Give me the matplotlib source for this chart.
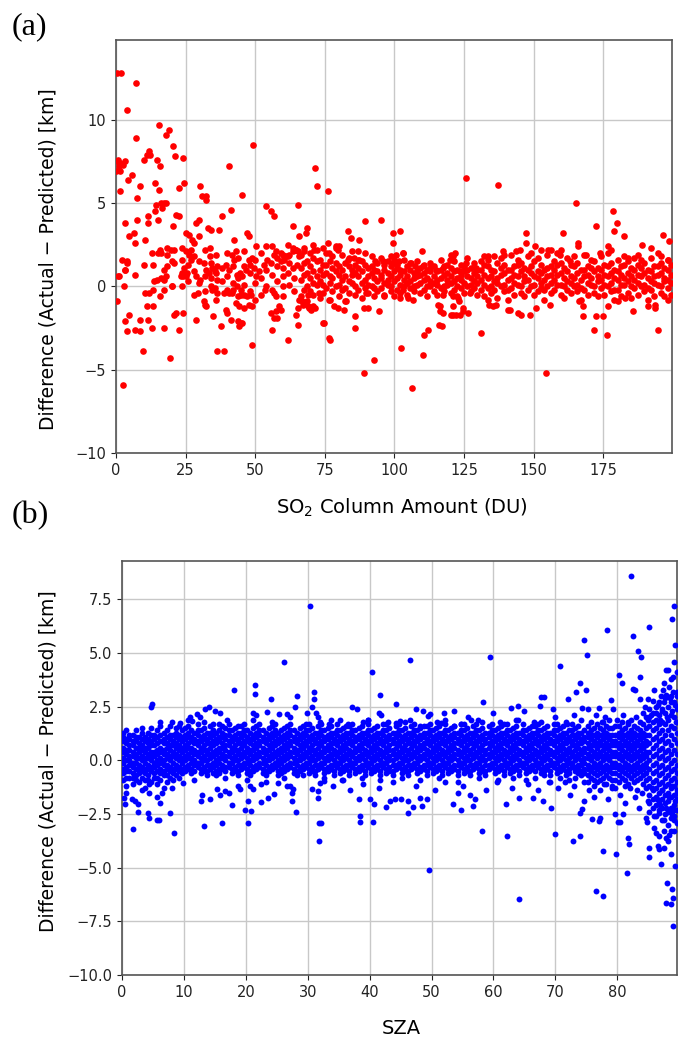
import matplotlib.pyplot as plt
import numpy as np

# ---------------- panel (a): SO2 column amount vs difference ----------------
# scattered points read one by one: (SO2 column [DU], difference [km])
so2_points = [
    (0.5, 12.8), (1.9, 12.8), (7.1, 12.2), (4.0, 10.6), (15.3, 9.7), (19.0, 9.4),
    (18.0, 9.1), (7.1, 8.9), (49.2, 8.5), (20.4, 8.4), (11.7, 8.1), (11.0, 7.9),
    (12.4, 7.9), (0.3, 7.5), (0.8, 7.6), (1.5, 7.4), (2.5, 7.3), (3.2, 7.5),
    (1.0, 7.2), (0.2, 6.9), (1.3, 6.9), (10.2, 7.6), (14.9, 7.6), (15.8, 7.2),
    (21.3, 7.8), (24.2, 7.7), (40.6, 7.2), (71.3, 7.1), (4.4, 6.4), (5.6, 6.7),
    (125.8, 6.5), (137.2, 6.1), (72.2, 6.0), (76.2, 5.7), (165.3, 5.0),
    (1.6, 5.7), (7.6, 5.3), (8.6, 6.0), (14.0, 6.2), (15.4, 5.8), (22.6, 5.9),
    (24.6, 6.2), (30.2, 6.0), (31.0, 5.4), (32.4, 5.4), (32.2, 5.2), (45.1, 5.5),
    (53.9, 4.8), (55.6, 4.5), (56.8, 4.2), (65.4, 4.9), (14.4, 4.9), (16.0, 5.0),
    (17.2, 5.0), (18.0, 5.0), (16.6, 4.7), (13.9, 4.5), (3.1, 3.8), (7.6, 4.0),
    (11.6, 4.2), (11.6, 3.8), (15.2, 4.0), (20.4, 3.6), (21.6, 4.3), (22.8, 4.2),
    (28.9, 3.8), (29.8, 4.0), (37.0, 3.4), (38.0, 4.2), (41.4, 4.6), (33.0, 3.5),
    (34.0, 3.4), (4.6, 3.0), (6.4, 3.2), (6.8, 2.6), (10.4, 2.8), (25.0, 3.2),
    (26.2, 3.1), (27.4, 2.8), (28.0, 2.6), (29.8, 3.0), (33.8, 2.3), (42.4, 2.8),
    (43.0, 2.1), (41.8, 1.9), (46.9, 3.2), (47.8, 3.0), (50.2, 2.4), (54.0, 2.4),
    (63.4, 3.6), (65.6, 3.0), (61.6, 2.5), (63.7, 2.3), (65.2, 2.1), (57.6, 2.1),
    (59.2, 2.0), (61.0, 1.8), (62.2, 1.9), (13.0, 2.0), (15.2, 2.0), (16.0, 2.0),
    (18.4, 2.3), (19.6, 2.2), (20.8, 2.2), (23.8, 2.3), (25.0, 2.1), (26.2, 1.9),
    (26.8, 2.2), (27.0, 1.6), (20.2, 1.5), (20.8, 1.4), (23.8, 1.6), (24.6, 1.1),
    (23.8, 0.8), (25.6, 0.8), (25.0, 0.6), (28.6, 0.6), (31.6, 1.4), (32.4, 1.0),
    (33.4, 0.8), (34.6, 1.1), (35.4, 0.9), (36.4, 1.2), (34.0, 0.5), (36.2, 0.4),
    (33.6, 1.8), (39.4, 1.3), (40.6, 1.0), (42.4, 1.6), (43.6, 0.7), (44.6, 0.8),
    (46.0, 1.2), (45.4, 0.6), (46.6, 1.0), (47.8, 1.6), (49.0, 1.7), (49.6, 1.1),
    (50.2, 0.6), (51.4, 0.9), (53.2, 1.3), (54.4, 1.6), (55.6, 1.4), (56.8, 1.9),
    (58.0, 1.7), (59.2, 1.5), (60.4, 1.6), (61.6, 1.8), (63.4, 2.1), (64.6, 2.2),
    (65.8, 1.8), (59.8, 1.1), (61.6, 0.8), (63.4, 1.1), (64.9, 1.3), (1.0, 0.6),
    (2.2, 1.6), (3.8, 1.5), (3.4, 1.0), (6.7, 0.7), (10.0, 1.3), (13.4, 1.3),
    (15.8, 2.2), (18.4, 1.9), (17.2, 1.0), (0.4, -0.9), (2.8, 0.0), (13.6, 0.3),
    (14.8, 0.4), (16.0, 0.5), (17.2, 0.4), (17.8, 0.6), (10.6, -0.4), (11.8, -0.4),
    (13.4, -0.2), (15.8, -0.6), (17.2, -0.2), (20.2, 0.0), (23.8, 0.0), (24.2, 0.6),
    (11.0, -1.2), (13.2, -1.2), (4.6, -1.7), (8.5, -2.0), (11.4, -2.0), (13.0, -2.5),
    (3.1, -2.1), (3.8, -2.7), (6.8, -2.6), (8.8, -2.7), (9.8, -3.9), (17.2, -2.5),
    (19.4, -4.3), (21.4, -1.6), (20.8, -1.7), (22.6, -2.6), (24.2, -1.6), (28.6, -2.0),
    (29.4, -0.4), (31.6, -0.9), (32.2, -1.2), (34.9, -1.8), (34.6, -0.2), (35.4, -0.1),
    (36.2, -3.9), (38.8, -3.9), (37.6, -2.4), (39.4, -1.4), (40.0, -1.6), (41.2, -2.0),
    (38.8, -0.4), (40.6, -0.4), (41.8, -0.4), (43.9, -2.1), (44.8, -2.2), (44.2, -2.4),
    (45.4, -2.2), (43.0, -1.0), (44.2, -1.2), (46.0, -1.3), (43.3, 0.0), (44.8, -0.2),
    (46.0, -0.5), (47.2, -0.6), (48.4, -0.5), (49.0, -1.2), (49.8, -0.8), (48.7, -3.5),
    (56.2, -2.6), (56.8, -0.4), (57.6, -0.6), (58.6, -1.2), (57.4, -1.5), (59.8, 0.0),
    (59.2, -1.4), (61.6, -3.2), (64.6, -1.7), (65.4, -1.3), (65.2, -2.3), (65.8, -0.8),
    (2.5, -5.9), (18.4, 1.2), (20.0, 0.0), (23.2, 0.6), (30.2, 0.4), (31.8, -1.1),
    (36.4, -0.4), (42.0, -0.2), (45.0, -0.5), (47.9, -1.1), (53.6, -0.2), (55.6, -1.6),
    (56.8, -1.9), (57.7, -1.9), (66.7, -0.9), (67.3, -1.1), (68.9, -1.2), (70.1, -1.4),
    (71.3, -1.3), (74.5, -2.2), (76.6, -3.1), (0.8, 0.6), (4.0, 1.4), (3.2, 1.0),
    (89.5, 3.9), (95.2, 4.0), (99.4, 3.2), (102.0, 3.3), (99.4, 2.6), (83.4, 3.3),
    (84.4, 2.9), (87.1, 2.8), (68.5, 3.5), (68.2, 3.2), (109.8, 2.1), (120.4, 1.9),
    (121.9, 2.0), (102.9, 2.0), (64.8, 2.2), (67.6, 2.1), (70.6, 2.5), (71.2, 2.2),
    (74.2, 2.3), (76.0, 2.6), (76.6, 2.0), (79.0, 2.3), (80.2, 2.4), (79.6, 2.2),
    (83.2, 1.6), (85.6, 1.7), (86.8, 2.1), (87.4, 1.6), (92.9, 1.5), (95.8, 1.5),
    (98.8, 1.8), (100.6, 1.9), (103.0, 2.0), (99.4, 1.4), (101.8, 1.5), (106.0, 1.4),
    (107.2, 1.2), (110.2, 1.2), (112.6, 1.1), (115.0, 1.0), (117.4, 1.1), (119.8, 1.6),
    (121.0, 1.8), (123.4, 0.9), (125.8, 1.4), (129.3, 1.1), (132.3, 1.8),
    (68.8, -0.5), (69.4, -1.3), (70.6, -1.2), (73.0, -0.4), (74.8, -2.2), (76.6, -0.8),
    (77.0, -3.2), (78.4, -1.2), (79.6, -1.3), (82.6, -0.9), (82.0, -1.4), (85.9, -1.8),
    (85.9, -2.5), (89.2, -1.3), (90.4, -1.3), (94.3, -1.5), (96.4, -0.6), (89.8, -0.4),
    (89.2, -5.2), (92.8, -4.4), (102.5, -3.7), (106.4, -6.1), (110.2, -4.1), (110.5, -2.9),
    (112.2, -2.6), (115.9, -2.3), (117.0, -2.4), (102.0, -0.7), (104.8, -0.7), (106.6, -0.8),
    (103.0, -0.2), (116.2, -1.2), (116.4, -1.5), (117.4, -1.6), (120.4, -1.7), (121.0, -1.2),
    (123.0, -0.9), (123.4, -1.7), (124.6, -1.5), (126.4, -1.6), (121.0, -0.6), (122.8, -0.7),
    (131.1, -2.8), (117.4, -0.5), (127.0, -0.4),
    (178.5, 4.5), (179.9, 3.8), (178.8, 3.3), (172.2, 3.6), (182.3, 3.0), (196.5, 3.1),
    (198.6, 2.7), (147.3, 3.2), (147.3, 2.6), (150.3, 2.4), (160.5, 3.2), (165.9, 2.6),
    (165.9, 2.4), (176.7, 2.4), (177.9, 2.2), (188.7, 2.5), (192.0, 2.3), (168.6, 1.9),
    (173.7, 2.0), (183.9, 1.7), (187.5, 1.9), (195.8, 1.8), (198.3, 1.6), (133.5, 1.8),
    (138.9, 2.1), (139.5, 1.9), (143.7, 2.1), (144.9, 2.2), (152.7, 2.2), (155.1, 2.2),
    (156.3, 2.2), (159.9, 2.2), (159.4, 1.9), (162.9, 1.5), (135.3, -1.2), (136.5, -1.1),
    (141.3, -1.4), (144.3, -1.6), (145.5, -1.7), (148.5, -1.7), (150.9, -1.3), (155.7, -1.1),
    (154.5, -5.2), (166.1, -0.9), (167.7, -1.2), (167.7, -1.8), (172.2, -1.8), (174.9, -1.8),
    (171.5, -2.6), (176.4, -2.9), (176.7, -1.2), (180.3, -0.9), (182.7, -0.7), (185.7, -1.5),
    (191.1, -1.2), (193.7, -1.3), (193.7, -1.1), (194.7, -2.6), (133.5, -0.8), (134.1, -1.1),
    (198.2, -0.8), (115.5, -1.1), (120.9, -1.7), (122.1, -1.7), (124.5, -1.3), (140.7, -1.4),
]

# denser part of the cloud, read as narrow columns: (SO2 column, [differences])
so2_band = [
    (26.0, [0.3, 1.3]), (28.0, [-0.5, 0.9, 1.8]), (30.0, [0.2, 1.5]),
    (32.0, [-0.3, 0.6, 2.2]), (34.0, [0.0, 1.4]), (36.0, [-0.8, 0.8, 1.9]),
    (38.0, [0.3, 1.1]), (40.0, [-0.2, 0.6, 2.0]), (42.0, [0.2, 1.2]),
    (44.0, [-0.6, 0.5, 1.7]), (46.0, [0.1, 2.1]), (48.0, [-0.3, 0.8, 1.3]),
    (50.0, [0.2, 1.6]), (52.0, [-0.5, 0.5, 2.0]), (54.0, [0.0, 1.0]),
    (56.0, [-0.2, 0.7, 2.4]), (58.0, [0.3, 1.2]), (60.0, [-0.6, 0.6, 1.9]),
    (62.0, [0.1, 1.4]), (64.0, [-0.3, 0.5, 2.2]),
    (66.3, [-0.6, 0.4, 1.1, 1.9]), (67.4, [-0.2, 0.7, 1.4, 2.3]), (68.7, [-0.9, 0.0, 0.8, 1.5]),
    (69.8, [-0.3, 0.5, 1.2, 2.0]), (70.9, [-0.5, 0.2, 0.9, 1.7]), (72.1, [0.1, 0.6, 1.5, 2.2]),
    (73.3, [-0.7, 0.3, 1.0, 1.6]), (74.2, [-0.4, 0.1, 0.7, 1.3]), (75.5, [-0.1, 0.8, 1.3, 2.0]),
    (76.7, [-0.8, 0.2, 0.6, 1.5]), (77.6, [-0.3, 0.5, 1.1, 1.8]), (78.9, [0.0, 0.9, 1.4, 2.4]),
    (80.1, [-0.6, 0.1, 0.7, 1.2]), (81.2, [-0.2, 0.4, 1.0, 1.9]), (82.4, [-0.9, -0.1, 0.6, 1.4]),
    (83.7, [-0.4, 0.3, 1.2, 1.7]), (84.8, [0.2, 0.7, 1.0, 2.1]), (85.9, [-0.5, 0.0, 0.8, 1.3]),
    (87.0, [-0.2, 0.6, 1.1, 1.6]), (88.3, [-0.7, 0.2, 0.9, 1.5]), (89.4, [-0.1, 0.4, 1.3, 2.0]),
    (90.6, [-0.4, 0.1, 0.6, 1.1]), (91.8, [0.0, 0.8, 1.2, 1.8]), (92.7, [-0.6, -0.1, 0.5, 1.0]),
    (93.9, [-0.3, 0.3, 0.9, 1.4]), (95.1, [-0.1, 0.5, 0.7, 1.7]), (96.2, [-0.5, 0.2, 1.0, 1.3]),
    (97.5, [0.1, 0.4, 0.8, 1.5]), (98.6, [-0.3, 0.0, 0.6, 1.2]), (99.8, [-0.6, 0.3, 0.9, 1.6]),
    (101.0, [-0.2, 0.5, 1.1, 1.3]), (102.1, [-0.4, 0.1, 0.7, 1.0]), (103.4, [0.0, 0.4, 0.9, 1.6]),
    (104.6, [-0.5, 0.2, 0.6, 1.2]), (105.7, [-0.1, 0.3, 1.0, 1.4]), (106.9, [-0.3, 0.0, 0.5, 0.8]),
    (108.2, [0.1, 0.6, 0.9, 1.5]), (109.3, [-0.4, 0.2, 0.7, 1.1]), (110.5, [-0.2, 0.4, 0.8, 1.3]),
    (111.8, [-0.6, 0.0, 0.5, 1.0]), (112.9, [0.0, 0.3, 0.9, 1.4]), (114.1, [-0.3, 0.2, 0.6, 1.2]),
    (115.4, [-0.5, 0.1, 0.4, 0.9]), (116.6, [-0.1, 0.5, 1.0, 1.6]), (117.7, [-0.3, 0.0, 0.7, 1.2]),
    (118.9, [0.1, 0.4, 0.8, 1.3]), (120.2, [-0.4, 0.2, 0.6, 1.1]), (121.4, [-0.2, 0.3, 0.9, 1.5]),
    (122.5, [-0.6, 0.0, 0.5, 1.0]), (123.8, [-0.1, 0.4, 0.7, 1.3]), (124.9, [-0.4, 0.2, 0.9, 1.2]),
    (126.1, [0.0, 0.6, 1.0, 1.7]), (127.4, [-0.3, 0.1, 0.5, 1.1]), (128.6, [-0.1, 0.3, 0.8, 1.4]),
    (129.7, [-0.5, 0.2, 0.6, 1.0]), (130.9, [-0.2, 0.4, 1.0, 1.5]), (132.2, [-0.6, 0.1, 0.7, 1.3]),
    (133.4, [-0.1, 0.5, 1.2, 1.6]), (134.5, [-0.4, 0.0, 0.6, 1.0]), (135.8, [-0.2, 0.3, 0.9, 1.8]),
    (136.9, [-0.7, 0.2, 0.5, 1.4]), (138.1, [0.0, 0.7, 1.1, 1.7]), (139.4, [-0.3, 0.1, 0.8, 1.3]),
    (140.6, [-0.8, -0.2, 0.4, 1.0]), (141.7, [-0.1, 0.5, 1.0, 1.9]), (142.9, [-0.5, 0.2, 0.7, 1.2]),
    (144.2, [0.1, 0.6, 1.3, 1.6]), (145.3, [-0.4, 0.0, 0.9, 1.4]), (146.5, [-0.6, 0.3, 0.6, 1.1]),
    (147.8, [-0.2, 0.4, 1.0, 1.8]), (148.9, [0.0, 0.8, 1.2, 2.0]), (150.1, [-0.5, 0.1, 0.6, 1.5]),
    (151.4, [-0.3, 0.5, 0.9, 1.7]), (152.5, [-0.1, 0.2, 0.8, 1.3]), (153.7, [-0.8, -0.2, 0.4, 1.0]),
    (154.9, [0.0, 0.6, 1.1, 1.9]), (156.2, [-0.4, 0.2, 0.7, 1.2]), (157.3, [-0.2, 0.4, 1.0, 1.5]),
    (158.5, [0.1, 0.7, 1.3, 2.0]), (159.8, [-0.5, 0.1, 0.8, 1.4]), (160.9, [-0.7, 0.0, 0.5, 1.1]),
    (162.1, [-0.2, 0.3, 0.9, 1.7]), (163.4, [-0.4, 0.2, 0.6, 1.3]), (164.6, [0.0, 0.5, 1.2, 1.8]),
    (165.7, [-0.3, 0.1, 0.8, 1.4]), (166.9, [-0.8, -0.1, 0.4, 1.0]), (168.2, [-0.2, 0.6, 1.0, 1.9]),
    (169.3, [-0.5, 0.2, 0.7, 1.2]), (170.5, [0.1, 0.5, 1.1, 1.6]), (171.8, [-0.4, 0.0, 0.9, 1.5]),
    (172.9, [-0.6, 0.3, 0.6, 1.1]), (174.1, [-0.1, 0.4, 1.0, 1.8]), (175.4, [-0.5, 0.1, 0.7, 1.3]),
    (176.5, [0.0, 0.6, 1.2, 2.0]), (177.7, [-0.3, 0.2, 0.8, 1.4]), (178.9, [-0.8, -0.2, 0.5, 1.0]),
    (180.2, [-0.2, 0.4, 0.9, 1.6]), (181.3, [-0.6, 0.1, 0.7, 1.2]), (182.5, [0.1, 0.5, 1.3, 1.8]),
    (183.8, [-0.4, 0.3, 0.8, 1.5]), (184.9, [-0.7, 0.0, 0.6, 1.1]), (186.1, [-0.1, 0.4, 1.0, 1.7]),
    (187.4, [-0.5, 0.2, 0.7, 1.3]), (188.5, [0.0, 0.6, 1.1, 1.6]), (189.7, [-0.3, 0.1, 0.8, 1.4]),
    (190.9, [-0.8, -0.1, 0.5, 1.0]), (192.2, [-0.2, 0.3, 0.9, 1.7]), (193.3, [-0.6, 0.2, 0.6, 1.2]),
    (194.5, [0.1, 0.7, 1.2, 2.0]), (195.8, [-0.4, 0.0, 0.8, 1.4]), (196.9, [-0.6, 0.3, 0.5, 1.1]),
    (198.1, [-0.1, 0.4, 1.0, 1.6]), (199.3, [-0.5, 0.2, 0.7, 1.3]),
]

# ---------------- panel (b): SZA vs difference ----------------
# scattered points read one by one: (SZA [deg], difference [km])
sza_points = [
    (30.4, 7.2), (26.1, 4.6), (18.1, 3.3), (21.5, 3.5), (21.5, 3.1), (24.1, 2.85),
    (28.3, 3.0), (31.0, 3.2), (31.0, 2.85), (30.7, 2.5), (4.8, 2.65), (4.7, 2.5),
    (27.9, 2.5), (29.8, 2.2), (31.4, 2.2), (31.7, 2.0), (25.4, 2.15), (26.6, 2.15),
    (23.4, 2.25), (21.2, 2.2), (21.7, 2.1), (14.0, 2.5), (15.0, 2.3), (15.8, 2.2),
    (12.1, 2.15), (11.3, 1.85), (8.1, 1.8), (9.4, 1.75), (6.1, 1.8), (31.9, 1.8),
    (13.4, 2.4), (16.9, 1.9), (12.6, 2.0), (11.0, 2.0),
    (82.2, 8.6), (89.2, 7.2), (88.8, 6.6), (85.1, 6.2), (78.4, 6.1), (82.6, 5.8),
    (74.6, 5.6), (89.3, 5.4), (83.4, 5.1), (75.1, 4.9), (83.9, 4.8), (59.4, 4.8),
    (46.5, 4.7), (40.4, 4.1), (70.8, 4.4), (89.1, 4.6), (88.2, 4.2), (89.0, 3.9),
    (80.3, 4.0), (80.8, 3.6), (83.7, 3.9), (73.9, 3.6), (75.0, 3.3), (73.4, 3.2),
    (82.5, 3.35), (82.9, 3.3), (87.6, 3.6), (88.4, 3.4), (87.4, 3.3), (87.9, 3.05),
    (89.0, 3.2), (72.0, 2.85), (41.7, 3.05), (44.2, 2.65), (58.3, 2.7), (67.6, 2.95),
    (68.1, 2.95), (83.7, 2.85), (84.9, 2.85), (85.8, 2.75), (87.6, 2.7), (88.7, 2.7),
    (37.1, 2.5), (38.0, 2.4), (47.5, 2.4), (48.6, 2.3), (49.7, 2.15), (52.0, 2.2),
    (53.7, 2.3), (55.9, 2.0), (56.4, 1.9), (59.9, 2.2), (62.9, 2.45), (63.9, 2.55),
    (64.9, 2.3), (67.5, 2.55), (69.6, 2.4), (74.3, 2.45), (75.3, 2.4), (77.1, 2.45),
    (79.3, 2.4), (38.9, 1.8), (41.5, 2.2), (41.8, 2.1), (44.2, 1.75), (44.9, 1.85),
    (48.1, 1.6), (49.4, 2.05), (51.6, 1.75), (53.7, 1.6),
    (86.2, 2.2), (86.9, 1.9), (87.3, 2.4), (88.1, 2.0), (88.9, 2.3), (89.5, 1.8),
    (85.5, 2.1), (86.5, 2.6), (87.0, 3.0), (88.5, 2.9), (89.4, 2.6), (85.0, 1.9),
    (84.2, 2.2), (83.0, 2.0), (81.0, 2.1), (80.0, 1.9), (78.0, 2.0), (76.5, 2.1),
    (77.5, 1.8), (81.8, 1.8), (79.0, 2.8), (84.5, 2.5), (86.0, 3.3), (89.6, 3.0),
    (89.7, 4.1), (88.6, 3.8), (87.8, 4.2),
    (33.5, 1.7), (35.2, 1.9), (36.5, 1.7), (39.8, 1.9), (43.0, 1.8), (46.5, 1.9),
    (50.8, 1.8), (54.8, 1.7), (57.5, 1.9), (61.0, 1.8), (64.0, 1.9), (66.5, 1.8),
    (70.0, 2.0), (71.8, 1.7), (73.0, 2.1),
    (1.8, -3.2), (8.4, -3.4), (13.3, -3.04), (31.8, -3.77), (31.8, -2.9), (32.2, -2.9),
    (16.1, -2.9), (20.4, -2.9), (5.7, -2.76), (6.0, -2.76), (4.2, -2.45), (4.4, -2.68),
    (7.7, -2.45), (2.5, -2.4), (2.1, -1.9), (2.6, -2.05), (1.6, -1.8), (0.3, -1.75),
    (0.5, -2.05), (0.7, -1.5), (6.1, -2.0), (5.6, -1.7), (6.4, -1.5), (6.7, -1.28),
    (3.2, -1.4), (4.4, -1.5), (4.3, -1.12), (8.0, -1.28), (9.8, -1.07), (12.9, -1.6),
    (12.7, -1.9), (14.2, -1.82), (15.3, -1.35), (15.8, -1.6), (16.6, -1.43), (17.2, -1.5),
    (17.8, -2.06), (18.7, -1.2), (19.0, -1.35), (19.9, -2.3), (20.4, -1.9), (20.9, -2.37),
    (20.7, -1.2), (21.2, -1.33), (22.5, -1.12), (22.4, -1.95), (23.5, -1.74), (24.6, -1.56),
    (25.2, -1.04), (26.6, -1.2), (27.1, -1.2), (27.4, -1.5), (27.5, -1.9), (28.1, -2.4),
    (27.6, -1.35), (30.7, -1.35), (31.7, -1.43), (32.0, -1.04), (32.7, -0.97), (31.7, -1.74),
    (89.0, -7.7), (87.9, -6.65), (88.7, -6.7), (88.0, -5.7), (88.8, -6.0), (89.0, -6.4),
    (76.6, -6.1), (77.7, -6.3), (64.1, -6.45), (49.6, -5.1), (81.5, -5.25), (87.1, -4.83),
    (89.4, -4.9), (77.7, -4.24), (79.8, -4.35), (85.2, -4.5), (85.2, -4.08), (86.5, -4.0),
    (86.8, -4.13), (87.6, -4.08), (88.6, -4.35), (81.7, -3.6), (81.9, -3.9), (70.0, -3.41),
    (73.9, -3.5), (72.8, -3.77), (62.2, -3.5), (58.2, -3.3), (86.0, -3.15), (86.3, -3.38),
    (86.8, -3.54), (87.9, -3.61), (88.4, -3.46), (88.7, -3.3), (87.6, -3.3), (88.2, -3.77),
    (89.2, -2.76), (75.9, -2.73), (77.0, -2.83), (77.2, -2.68), (79.6, -2.52), (80.1, -2.88),
    (80.5, -2.88), (80.9, -2.52), (84.7, -2.68), (84.8, -2.87), (86.0, -2.57), (86.8, -2.45),
    (87.6, -2.76), (88.4, -2.37), (88.9, -2.52), (89.2, -2.29), (38.5, -2.6), (38.5, -2.87),
    (40.6, -2.87), (46.2, -2.45), (54.8, -2.29), (56.7, -2.13), (69.3, -2.2), (73.9, -2.45),
    (74.3, -2.26), (38.3, -1.82), (40.0, -1.82), (40.7, -2.05), (42.7, -2.18), (43.3, -1.9),
    (44.1, -1.82), (45.1, -1.82), (46.2, -1.9), (47.0, -2.16), (48.1, -1.74), (48.5, -2.13),
    (49.3, -1.79), (53.4, -2.05), (54.3, -1.51), (56.2, -1.59), (57.0, -1.82), (62.0, -2.05),
    (64.2, -1.74), (66.4, -1.74), (68.0, -1.9),
    (70.5, -1.3), (71.5, -1.0), (72.3, -1.6), (73.0, -1.2), (74.6, -1.9), (75.4, -1.4),
    (76.2, -1.7), (77.8, -1.1), (78.5, -1.8), (79.2, -1.3), (80.4, -1.6), (81.3, -2.0),
    (82.0, -1.3), (82.8, -1.7), (83.5, -2.2), (84.0, -1.5), (85.0, -1.9), (85.6, -1.3),
    (86.4, -1.8), (86.9, -2.1), (87.3, -1.4), (87.8, -2.2), (88.3, -1.7), (88.8, -1.2),
    (89.3, -1.9), (89.6, -1.5), (34.0, -1.2), (35.5, -0.9), (36.8, -1.4), (39.0, -1.1),
    (41.5, -1.3), (43.8, -1.0), (47.5, -1.2), (50.5, -1.4), (52.2, -1.0), (55.0, -1.2),
    (58.8, -1.4), (60.5, -1.0), (63.0, -1.3), (65.5, -1.1), (67.2, -1.4), (69.0, -1.0),
]

# dense core of the cloud, read as narrow columns: (SZA, [differences])
sza_band = [
    (0.2, [-0.9, -0.6, -0.4, -0.1, 0.1, 0.4, 0.6, 0.9, 1.1, 1.3]),
    (0.7, [-1.2, -0.8, -0.5, -0.3, 0.0, 0.3, 0.5, 0.8, 1.0, 1.4]),
    (1.2, [-0.8, -0.5, -0.2, 0.0, 0.2, 0.5, 0.7, 1.0, 1.2]),
    (1.7, [-1.1, -0.8, -0.6, -0.3, -0.1, 0.2, 0.4, 0.7, 0.9, 1.2]),
    (2.2, [-0.9, -0.7, -0.4, -0.1, 0.1, 0.3, 0.6, 0.9, 1.1, 1.4]),
    (2.7, [-1.0, -0.6, -0.4, -0.2, 0.1, 0.4, 0.6, 0.8, 1.1]),
    (3.2, [-0.8, -0.5, -0.3, 0.0, 0.2, 0.5, 0.7, 1.0, 1.3, 1.5]),
    (3.7, [-1.3, -0.9, -0.6, -0.4, -0.1, 0.1, 0.4, 0.6, 0.9, 1.1]),
    (4.2, [-0.9, -0.7, -0.4, -0.2, 0.1, 0.3, 0.6, 0.8, 1.0, 1.3]),
    (4.7, [-1.0, -0.5, -0.3, 0.0, 0.2, 0.4, 0.7, 0.9, 1.2, 1.5]),
    (5.2, [-0.8, -0.6, -0.3, -0.1, 0.2, 0.4, 0.7, 1.0, 1.2]),
    (5.7, [-1.1, -0.8, -0.5, -0.2, 0.0, 0.3, 0.5, 0.8, 1.1, 1.4]),
    (6.2, [-0.9, -0.6, -0.4, -0.1, 0.1, 0.4, 0.6, 0.9, 1.2, 1.6]),
    (6.7, [-0.7, -0.5, -0.2, 0.0, 0.3, 0.5, 0.8, 1.0, 1.3]),
    (7.2, [-1.0, -0.7, -0.4, -0.2, 0.1, 0.3, 0.6, 0.8, 1.1, 1.4]),
    (7.7, [-0.8, -0.5, -0.3, 0.0, 0.2, 0.5, 0.7, 1.0, 1.2, 1.6]),
    (8.2, [-0.9, -0.6, -0.4, -0.1, 0.2, 0.4, 0.7, 0.9, 1.2]),
    (8.7, [-0.7, -0.4, -0.2, 0.1, 0.3, 0.6, 0.8, 1.1, 1.3, 1.5]),
    (9.2, [-0.8, -0.5, -0.3, 0.0, 0.2, 0.5, 0.7, 1.0, 1.2, 1.6]),
    (9.7, [-0.6, -0.4, -0.1, 0.1, 0.4, 0.6, 0.9, 1.1, 1.4]),
    (10.2, [-0.5, -0.3, 0.0, 0.2, 0.5, 0.7, 1.0, 1.2, 1.5]),
    (10.7, [-0.4, -0.2, 0.1, 0.3, 0.6, 0.8, 1.1, 1.3, 1.6, 1.9]),
    (11.2, [-0.6, -0.4, -0.1, 0.1, 0.4, 0.6, 0.9, 1.1, 1.4]),
    (11.7, [-0.9, -0.5, -0.2, 0.0, 0.3, 0.5, 0.8, 1.0, 1.3]),
    (12.2, [-0.3, -0.1, 0.2, 0.4, 0.7, 0.9, 1.2, 1.4, 1.7]),
    (12.7, [-0.6, -0.4, -0.1, 0.1, 0.4, 0.6, 0.9, 1.1, 1.4]),
    (13.2, [-0.5, -0.3, 0.0, 0.2, 0.5, 0.7, 1.0, 1.2, 1.5, 1.8]),
    (13.7, [-0.7, -0.5, -0.2, 0.0, 0.3, 0.5, 0.8, 1.0, 1.3]),
    (14.2, [-0.4, -0.2, 0.1, 0.3, 0.6, 0.8, 1.1, 1.3, 1.6]),
    (14.7, [-0.6, -0.3, -0.1, 0.2, 0.4, 0.7, 0.9, 1.2, 1.4, 1.7]),
    (15.2, [-0.7, -0.5, -0.2, 0.0, 0.3, 0.5, 0.8, 1.0, 1.3]),
    (15.7, [-0.6, -0.4, -0.1, 0.1, 0.4, 0.6, 0.9, 1.1, 1.4, 1.7]),
    (16.2, [-0.4, -0.2, 0.1, 0.3, 0.6, 0.8, 1.1, 1.3, 1.6]),
    (16.7, [-0.8, -0.5, -0.3, 0.0, 0.2, 0.5, 0.7, 1.0, 1.2, 1.5]),
    (17.2, [-0.3, -0.1, 0.2, 0.4, 0.7, 0.9, 1.2, 1.4, 1.7]),
    (17.7, [-0.6, -0.4, -0.1, 0.1, 0.4, 0.6, 0.9, 1.1, 1.4]),
    (18.2, [-0.5, -0.3, 0.0, 0.2, 0.5, 0.7, 1.0, 1.2, 1.5]),
    (18.7, [-0.7, -0.5, -0.2, 0.0, 0.3, 0.5, 0.8, 1.0, 1.3, 1.6]),
    (19.2, [-0.4, -0.2, 0.1, 0.3, 0.6, 0.8, 1.1, 1.3, 1.6]),
    (19.7, [-0.3, -0.1, 0.2, 0.4, 0.7, 0.9, 1.2, 1.4, 1.7]),
    (20.2, [-0.9, -0.6, -0.4, -0.1, 0.1, 0.4, 0.6, 0.9, 1.1, 1.4]),
    (20.7, [-0.7, -0.5, -0.2, 0.0, 0.3, 0.5, 0.8, 1.0, 1.3]),
    (21.2, [-0.5, -0.3, 0.0, 0.2, 0.5, 0.7, 1.0, 1.2, 1.5, 1.9]),
    (21.7, [-0.4, -0.2, 0.1, 0.3, 0.6, 0.8, 1.1, 1.3, 1.6]),
    (22.2, [-0.3, -0.1, 0.2, 0.4, 0.7, 0.9, 1.2, 1.4, 1.7]),
    (22.7, [-0.6, -0.4, -0.1, 0.1, 0.4, 0.6, 0.9, 1.1, 1.4]),
    (23.2, [-1.0, -0.7, -0.5, -0.2, 0.0, 0.3, 0.5, 0.8, 1.0, 1.3]),
    (23.7, [-0.5, -0.3, 0.0, 0.2, 0.5, 0.7, 1.0, 1.2, 1.5]),
    (24.2, [-0.4, -0.2, 0.1, 0.3, 0.6, 0.8, 1.1, 1.3, 1.6, 1.8]),
    (24.7, [-0.3, -0.1, 0.2, 0.4, 0.7, 0.9, 1.2, 1.4, 1.7]),
    (25.2, [-0.7, -0.5, -0.2, 0.0, 0.3, 0.5, 0.8, 1.0, 1.3]),
    (25.7, [-0.6, -0.4, -0.1, 0.1, 0.4, 0.6, 0.9, 1.1, 1.4]),
    (26.2, [-0.8, -0.5, -0.3, 0.0, 0.2, 0.5, 0.7, 1.0, 1.2, 1.5]),
    (26.7, [-0.4, -0.2, 0.1, 0.3, 0.6, 0.8, 1.1, 1.3, 1.6]),
    (27.2, [-0.3, -0.1, 0.2, 0.4, 0.7, 0.9, 1.2, 1.4, 1.7, 2.0]),
    (27.7, [-0.6, -0.4, -0.1, 0.1, 0.4, 0.6, 0.9, 1.1, 1.4]),
    (28.2, [-0.7, -0.5, -0.2, 0.0, 0.3, 0.5, 0.8, 1.0, 1.3]),
    (28.7, [-0.5, -0.3, 0.0, 0.2, 0.5, 0.7, 1.0, 1.2, 1.5]),
    (29.2, [-0.7, -0.4, -0.2, 0.1, 0.3, 0.6, 0.8, 1.1, 1.3, 1.6]),
    (29.7, [-0.3, -0.1, 0.2, 0.4, 0.7, 0.9, 1.2, 1.4, 1.7]),
    (30.2, [-0.6, -0.4, -0.1, 0.1, 0.4, 0.6, 0.9, 1.1, 1.4, 1.7]),
    (30.7, [-0.5, -0.3, 0.0, 0.2, 0.5, 0.7, 1.0, 1.2, 1.5]),
    (31.2, [-0.7, -0.5, -0.2, 0.0, 0.3, 0.5, 0.8, 1.0, 1.3]),
    (31.7, [-0.4, -0.2, 0.1, 0.3, 0.6, 0.8, 1.1, 1.3, 1.6]),
    (32.2, [-0.3, -0.1, 0.2, 0.4, 0.7, 0.9, 1.2, 1.4, 1.7]),
    (32.7, [-0.8, -0.6, -0.4, -0.1, 0.1, 0.4, 0.6, 0.9, 1.1, 1.4]),
    (33.2, [-0.5, -0.3, 0.0, 0.2, 0.5, 0.7, 1.0, 1.2, 1.5]),
    (33.7, [-0.4, -0.2, 0.1, 0.3, 0.6, 0.8, 1.1, 1.3, 1.6, 1.9]),
    (34.2, [-0.7, -0.5, -0.2, 0.0, 0.3, 0.5, 0.8, 1.0, 1.3]),
    (34.7, [-0.3, -0.1, 0.2, 0.4, 0.7, 0.9, 1.2, 1.4, 1.7]),
    (35.2, [-0.6, -0.4, -0.1, 0.1, 0.4, 0.6, 0.9, 1.1, 1.4]),
    (35.7, [-0.9, -0.5, -0.3, 0.0, 0.2, 0.5, 0.7, 1.0, 1.2, 1.5]),
    (36.2, [-0.4, -0.2, 0.1, 0.3, 0.6, 0.8, 1.1, 1.3, 1.6]),
    (36.7, [-0.7, -0.5, -0.2, 0.0, 0.3, 0.5, 0.8, 1.0, 1.3, 1.6]),
    (37.2, [-0.3, -0.1, 0.2, 0.4, 0.7, 0.9, 1.2, 1.4, 1.7]),
    (37.7, [-0.6, -0.4, -0.1, 0.1, 0.4, 0.6, 0.9, 1.1, 1.4]),
    (38.2, [-0.5, -0.3, 0.0, 0.2, 0.5, 0.7, 1.0, 1.2, 1.5]),
    (38.7, [-0.8, -0.4, -0.2, 0.1, 0.3, 0.6, 0.8, 1.1, 1.3, 1.6]),
    (39.2, [-0.7, -0.5, -0.2, 0.0, 0.3, 0.5, 0.8, 1.0, 1.3]),
    (39.7, [-0.3, -0.1, 0.2, 0.4, 0.7, 0.9, 1.2, 1.4, 1.7, 1.9]),
    (40.2, [-0.6, -0.4, -0.1, 0.1, 0.4, 0.6, 0.9, 1.1, 1.4]),
    (40.7, [-0.5, -0.3, 0.0, 0.2, 0.5, 0.7, 1.0, 1.2, 1.5]),
    (41.2, [-0.4, -0.2, 0.1, 0.3, 0.6, 0.8, 1.1, 1.3, 1.6]),
    (41.7, [-0.9, -0.7, -0.5, -0.2, 0.0, 0.3, 0.5, 0.8, 1.0, 1.3]),
    (42.2, [-0.3, -0.1, 0.2, 0.4, 0.7, 0.9, 1.2, 1.4, 1.7]),
    (42.7, [-0.6, -0.4, -0.1, 0.1, 0.4, 0.6, 0.9, 1.1, 1.4, 1.7]),
    (43.2, [-0.5, -0.3, 0.0, 0.2, 0.5, 0.7, 1.0, 1.2, 1.5]),
    (43.7, [-0.7, -0.5, -0.2, 0.0, 0.3, 0.5, 0.8, 1.0, 1.3]),
    (44.2, [-0.4, -0.2, 0.1, 0.3, 0.6, 0.8, 1.1, 1.3, 1.6]),
    (44.7, [-0.3, -0.1, 0.2, 0.4, 0.7, 0.9, 1.2, 1.4, 1.7]),
    (45.2, [-0.8, -0.6, -0.4, -0.1, 0.1, 0.4, 0.6, 0.9, 1.1, 1.4]),
    (45.7, [-0.5, -0.3, 0.0, 0.2, 0.5, 0.7, 1.0, 1.2, 1.5, 1.8]),
    (46.2, [-0.7, -0.5, -0.2, 0.0, 0.3, 0.5, 0.8, 1.0, 1.3]),
    (46.7, [-0.4, -0.2, 0.1, 0.3, 0.6, 0.8, 1.1, 1.3, 1.6]),
    (47.2, [-0.3, -0.1, 0.2, 0.4, 0.7, 0.9, 1.2, 1.4, 1.7]),
    (47.7, [-0.6, -0.4, -0.1, 0.1, 0.4, 0.6, 0.9, 1.1, 1.4]),
    (48.2, [-0.9, -0.5, -0.3, 0.0, 0.2, 0.5, 0.7, 1.0, 1.2, 1.5]),
    (48.7, [-0.4, -0.2, 0.1, 0.3, 0.6, 0.8, 1.1, 1.3, 1.6]),
    (49.2, [-0.7, -0.5, -0.2, 0.0, 0.3, 0.5, 0.8, 1.0, 1.3, 1.6]),
    (49.7, [-0.3, -0.1, 0.2, 0.4, 0.7, 0.9, 1.2, 1.4, 1.7]),
    (50.2, [-0.6, -0.4, -0.1, 0.1, 0.4, 0.6, 0.9, 1.1, 1.4]),
    (50.7, [-0.5, -0.3, 0.0, 0.2, 0.5, 0.7, 1.0, 1.2, 1.5]),
    (51.2, [-0.8, -0.4, -0.2, 0.1, 0.3, 0.6, 0.8, 1.1, 1.3, 1.6]),
    (51.7, [-0.7, -0.5, -0.2, 0.0, 0.3, 0.5, 0.8, 1.0, 1.3]),
    (52.2, [-0.3, -0.1, 0.2, 0.4, 0.7, 0.9, 1.2, 1.4, 1.7, 1.9]),
    (52.7, [-0.6, -0.4, -0.1, 0.1, 0.4, 0.6, 0.9, 1.1, 1.4]),
    (53.2, [-0.5, -0.3, 0.0, 0.2, 0.5, 0.7, 1.0, 1.2, 1.5]),
    (53.7, [-0.4, -0.2, 0.1, 0.3, 0.6, 0.8, 1.1, 1.3, 1.6]),
    (54.2, [-1.0, -0.7, -0.5, -0.2, 0.0, 0.3, 0.5, 0.8, 1.0, 1.3]),
    (54.7, [-0.3, -0.1, 0.2, 0.4, 0.7, 0.9, 1.2, 1.4, 1.7]),
    (55.2, [-0.6, -0.4, -0.1, 0.1, 0.4, 0.6, 0.9, 1.1, 1.4, 1.7]),
    (55.7, [-0.5, -0.3, 0.0, 0.2, 0.5, 0.7, 1.0, 1.2, 1.5]),
    (56.2, [-0.7, -0.5, -0.2, 0.0, 0.3, 0.5, 0.8, 1.0, 1.3]),
    (56.7, [-0.4, -0.2, 0.1, 0.3, 0.6, 0.8, 1.1, 1.3, 1.6]),
    (57.2, [-0.3, -0.1, 0.2, 0.4, 0.7, 0.9, 1.2, 1.4, 1.7]),
    (57.7, [-0.8, -0.6, -0.4, -0.1, 0.1, 0.4, 0.6, 0.9, 1.1, 1.4]),
    (58.2, [-0.5, -0.3, 0.0, 0.2, 0.5, 0.7, 1.0, 1.2, 1.5, 1.8]),
    (58.7, [-0.7, -0.5, -0.2, 0.0, 0.3, 0.5, 0.8, 1.0, 1.3]),
    (59.2, [-0.4, -0.2, 0.1, 0.3, 0.6, 0.8, 1.1, 1.3, 1.6]),
    (59.7, [-0.3, -0.1, 0.2, 0.4, 0.7, 0.9, 1.2, 1.4, 1.7]),
    (60.2, [-0.6, -0.4, -0.1, 0.1, 0.4, 0.6, 0.9, 1.1, 1.4]),
    (60.7, [-0.9, -0.5, -0.3, 0.0, 0.2, 0.5, 0.7, 1.0, 1.2, 1.5]),
    (61.2, [-0.4, -0.2, 0.1, 0.3, 0.6, 0.8, 1.1, 1.3, 1.6]),
    (61.7, [-0.7, -0.5, -0.2, 0.0, 0.3, 0.5, 0.8, 1.0, 1.3, 1.7]),
    (62.2, [-0.3, -0.1, 0.2, 0.4, 0.7, 0.9, 1.2, 1.4, 1.7]),
    (62.7, [-0.6, -0.4, -0.1, 0.1, 0.4, 0.6, 0.9, 1.1, 1.4]),
    (63.2, [-0.8, -0.5, -0.3, 0.0, 0.2, 0.5, 0.7, 1.0, 1.2, 1.5]),
    (63.7, [-0.4, -0.2, 0.1, 0.3, 0.6, 0.8, 1.1, 1.3, 1.6, 1.9]),
    (64.2, [-0.7, -0.5, -0.2, 0.0, 0.3, 0.5, 0.8, 1.0, 1.3]),
    (64.7, [-0.3, -0.1, 0.2, 0.4, 0.7, 0.9, 1.2, 1.4, 1.7]),
    (65.2, [-0.9, -0.6, -0.4, -0.1, 0.1, 0.4, 0.6, 0.9, 1.1, 1.4]),
    (65.7, [-0.5, -0.3, 0.0, 0.2, 0.5, 0.7, 1.0, 1.2, 1.5]),
    (66.2, [-0.4, -0.2, 0.1, 0.3, 0.6, 0.8, 1.1, 1.3, 1.6]),
    (66.7, [-0.8, -0.5, -0.2, 0.0, 0.3, 0.5, 0.8, 1.0, 1.3, 1.6]),
    (67.2, [-0.3, -0.1, 0.2, 0.4, 0.7, 0.9, 1.2, 1.4, 1.7]),
    (67.7, [-0.6, -0.4, -0.1, 0.1, 0.4, 0.6, 0.9, 1.1, 1.4, 1.8]),
    (68.2, [-0.7, -0.5, -0.3, 0.0, 0.2, 0.5, 0.7, 1.0, 1.2, 1.5]),
    (68.7, [-0.4, -0.2, 0.1, 0.3, 0.6, 0.8, 1.1, 1.3, 1.6]),
    (69.2, [-1.0, -0.7, -0.5, -0.2, 0.0, 0.3, 0.5, 0.8, 1.0, 1.3]),
    (69.7, [-0.3, -0.1, 0.2, 0.4, 0.7, 0.9, 1.2, 1.4, 1.7]),
    (70.2, [-0.6, -0.4, -0.1, 0.1, 0.4, 0.6, 0.9, 1.1, 1.4, 1.7]),
    (70.7, [-0.8, -0.5, -0.3, 0.0, 0.2, 0.5, 0.7, 1.0, 1.2, 1.5]),
    (71.2, [-0.4, -0.2, 0.1, 0.3, 0.6, 0.8, 1.1, 1.3, 1.6]),
    (71.7, [-0.7, -0.5, -0.2, 0.0, 0.3, 0.5, 0.8, 1.0, 1.3, 1.8]),
    (72.2, [-0.9, -0.6, -0.4, -0.1, 0.1, 0.4, 0.6, 0.9, 1.1, 1.4]),
    (72.7, [-0.3, -0.1, 0.2, 0.4, 0.7, 0.9, 1.2, 1.4, 1.7]),
    (73.2, [-0.8, -0.5, -0.3, 0.0, 0.2, 0.5, 0.7, 1.0, 1.2, 1.5]),
    (73.7, [-0.6, -0.4, -0.2, 0.1, 0.3, 0.6, 0.8, 1.1, 1.3, 1.6]),
    (74.2, [-0.7, -0.5, -0.2, 0.0, 0.3, 0.5, 0.8, 1.0, 1.3, 1.9]),
    (74.7, [-1.0, -0.6, -0.4, -0.1, 0.1, 0.4, 0.6, 0.9, 1.1, 1.4]),
    (75.2, [-1.0, -0.7, -0.4, -0.2, 0.1, 0.3, 0.6, 0.8, 1.1, 1.3, 1.6]),
    (75.7, [-0.8, -0.5, -0.3, 0.0, 0.2, 0.5, 0.7, 1.0, 1.2, 1.4, 1.8]),
    (76.2, [-1.2, -0.9, -0.6, -0.3, -0.1, 0.2, 0.4, 0.7, 0.9, 1.2, 1.5]),
    (76.7, [-1.0, -0.7, -0.4, -0.2, 0.1, 0.3, 0.6, 0.8, 1.1, 1.3, 1.7]),
    (77.2, [-1.4, -0.9, -0.6, -0.3, -0.1, 0.2, 0.4, 0.7, 0.9, 1.2, 1.5]),
    (77.7, [-0.8, -0.5, -0.3, 0.0, 0.2, 0.5, 0.7, 1.0, 1.2, 1.4, 1.8]),
    (78.2, [-1.1, -0.7, -0.4, -0.2, 0.1, 0.3, 0.6, 0.8, 1.1, 1.3, 1.6]),
    (78.7, [-0.8, -0.5, -0.3, 0.0, 0.2, 0.5, 0.7, 1.0, 1.2, 1.5, 1.9]),
    (79.2, [-1.2, -0.9, -0.6, -0.3, -0.1, 0.2, 0.4, 0.7, 0.9, 1.2, 1.5]),
    (79.7, [-1.3, -0.9, -0.6, -0.3, -0.1, 0.2, 0.4, 0.7, 0.9, 1.2, 1.6]),
    (80.2, [-1.0, -0.7, -0.4, -0.2, 0.1, 0.3, 0.6, 0.8, 1.1, 1.3, 1.6]),
    (80.7, [-0.8, -0.5, -0.3, 0.0, 0.2, 0.5, 0.7, 1.0, 1.2, 1.4, 1.8]),
    (81.2, [-1.2, -0.9, -0.6, -0.3, -0.1, 0.2, 0.4, 0.7, 0.9, 1.2, 1.5]),
    (81.7, [-1.1, -0.7, -0.4, -0.2, 0.1, 0.3, 0.6, 0.8, 1.1, 1.3, 1.7]),
    (82.2, [-0.8, -0.5, -0.3, 0.0, 0.2, 0.5, 0.7, 1.0, 1.2, 1.4, 1.9]),
    (82.7, [-1.0, -0.7, -0.4, -0.2, 0.1, 0.3, 0.6, 0.8, 1.1, 1.3, 1.6]),
    (83.2, [-1.4, -0.9, -0.6, -0.3, -0.1, 0.2, 0.4, 0.7, 0.9, 1.2, 1.5]),
    (83.7, [-0.8, -0.5, -0.3, 0.0, 0.2, 0.5, 0.7, 1.0, 1.2, 1.4, 1.8]),
    (84.2, [-1.1, -0.7, -0.4, -0.2, 0.1, 0.3, 0.6, 0.8, 1.1, 1.3, 1.7]),
    (84.7, [-1.3, -0.9, -0.6, -0.3, -0.1, 0.2, 0.4, 0.7, 0.9, 1.2, 1.5, 2.0]),
    (85.2, [-2.4, -2.0, -1.6, -1.2, -0.8, -0.4, 0.0, 0.4, 0.8, 1.2, 1.6, 2.0, 2.4]),
    (85.7, [-2.2, -1.8, -1.4, -1.0, -0.6, -0.2, 0.2, 0.6, 1.0, 1.4, 1.8, 2.2]),
    (86.2, [-2.6, -2.1, -1.7, -1.3, -0.9, -0.5, -0.1, 0.3, 0.7, 1.1, 1.5, 1.9, 2.5]),
    (86.7, [-2.3, -1.9, -1.5, -1.1, -0.7, -0.3, 0.1, 0.5, 0.9, 1.3, 1.7, 2.1, 2.7]),
    (87.2, [-2.8, -2.2, -1.8, -1.4, -1.0, -0.6, -0.2, 0.2, 0.6, 1.0, 1.4, 1.8, 2.3]),
    (87.7, [-2.5, -2.0, -1.6, -1.2, -0.8, -0.4, 0.0, 0.4, 0.8, 1.2, 1.7, 2.2, 2.9]),
    (88.2, [-3.0, -2.4, -1.9, -1.5, -1.1, -0.7, -0.3, 0.1, 0.5, 0.9, 1.4, 1.9, 2.5]),
    (88.7, [-2.7, -2.2, -1.7, -1.3, -0.9, -0.5, -0.1, 0.3, 0.7, 1.2, 1.6, 2.1, 3.0]),
    (89.2, [-3.3, -2.6, -2.1, -1.6, -1.2, -0.8, -0.4, 0.0, 0.5, 1.0, 1.5, 2.0, 2.7]),
    (89.7, [-2.9, -2.3, -1.8, -1.4, -1.0, -0.6, -0.2, 0.3, 0.8, 1.3, 1.8, 2.4, 3.2]),
]

so2_xticks = [0, 25, 50, 75, 100, 125, 150, 175]
so2_yticks = [-10, -5, 0, 5, 10]
sza_xticks = [0, 10, 20, 30, 40, 50, 60, 70, 80]
sza_yticks = [-10.0, -7.5, -5.0, -2.5, 0.0, 2.5, 5.0, 7.5]

ylabel = "Difference (Actual \u2212 Predicted) [km]"


def unpack(points, band):
    xs = [p[0] for p in points]
    ys = [p[1] for p in points]
    for x, vals in band:
        xs += [x] * len(vals)
        ys += list(vals)
    return np.array(xs), np.array(ys)


def style_axes(ax):
    ax.grid(True, color="#c8c8c8", linewidth=1.0)
    ax.set_axisbelow(True)
    ax.tick_params(labelsize=10.5, length=3.5, colors="#222222")
    for sp in ax.spines.values():
        sp.set_edgecolor("#555555")
        sp.set_linewidth(1.2)


fig = plt.figure(figsize=(6.78, 10.38), dpi=100)

# panel (a)
ax_a = fig.add_axes([0.171, 0.5636, 0.820, 0.398])
x, y = unpack(so2_points, so2_band)
ax_a.scatter(x, y, s=23, color="red", linewidths=0, zorder=3)
ax_a.set_xlim(0, 199.6)
ax_a.set_ylim(-10, 14.8)
ax_a.set_xticks(so2_xticks)
ax_a.set_yticks(so2_yticks)
style_axes(ax_a)
ax_a.set_xlabel("SO$_2$ Column Amount (DU)", fontsize=14)
ax_a.xaxis.set_label_coords(0.514, -0.106)
ax_a.set_ylabel(ylabel, fontsize=13.5)
ax_a.yaxis.set_label_coords(-0.106, 0.47)

# panel (b)
ax_b = fig.add_axes([0.180, 0.0607, 0.819, 0.399])
x, y = unpack(sza_points, sza_band)
ax_b.scatter(x, y, s=18, color="blue", linewidths=0, zorder=3)
ax_b.set_xlim(0, 89.7)
ax_b.set_ylim(-10, 9.3)
ax_b.set_xticks(sza_xticks)
ax_b.set_yticks(sza_yticks)
style_axes(ax_b)
ax_b.set_xlabel("SZA", fontsize=14)
ax_b.xaxis.set_label_coords(0.503, -0.106)
ax_b.set_ylabel(ylabel, fontsize=13.5)
ax_b.yaxis.set_label_coords(-0.117, 0.516)

# panel letters
fig.text(0.017, 0.988, "(a)", fontsize=23, family="Liberation Serif", va="top")
fig.text(0.017, 0.517, "(b)", fontsize=23, family="Liberation Serif", va="top")

fig.savefig("out.png", dpi=100)
